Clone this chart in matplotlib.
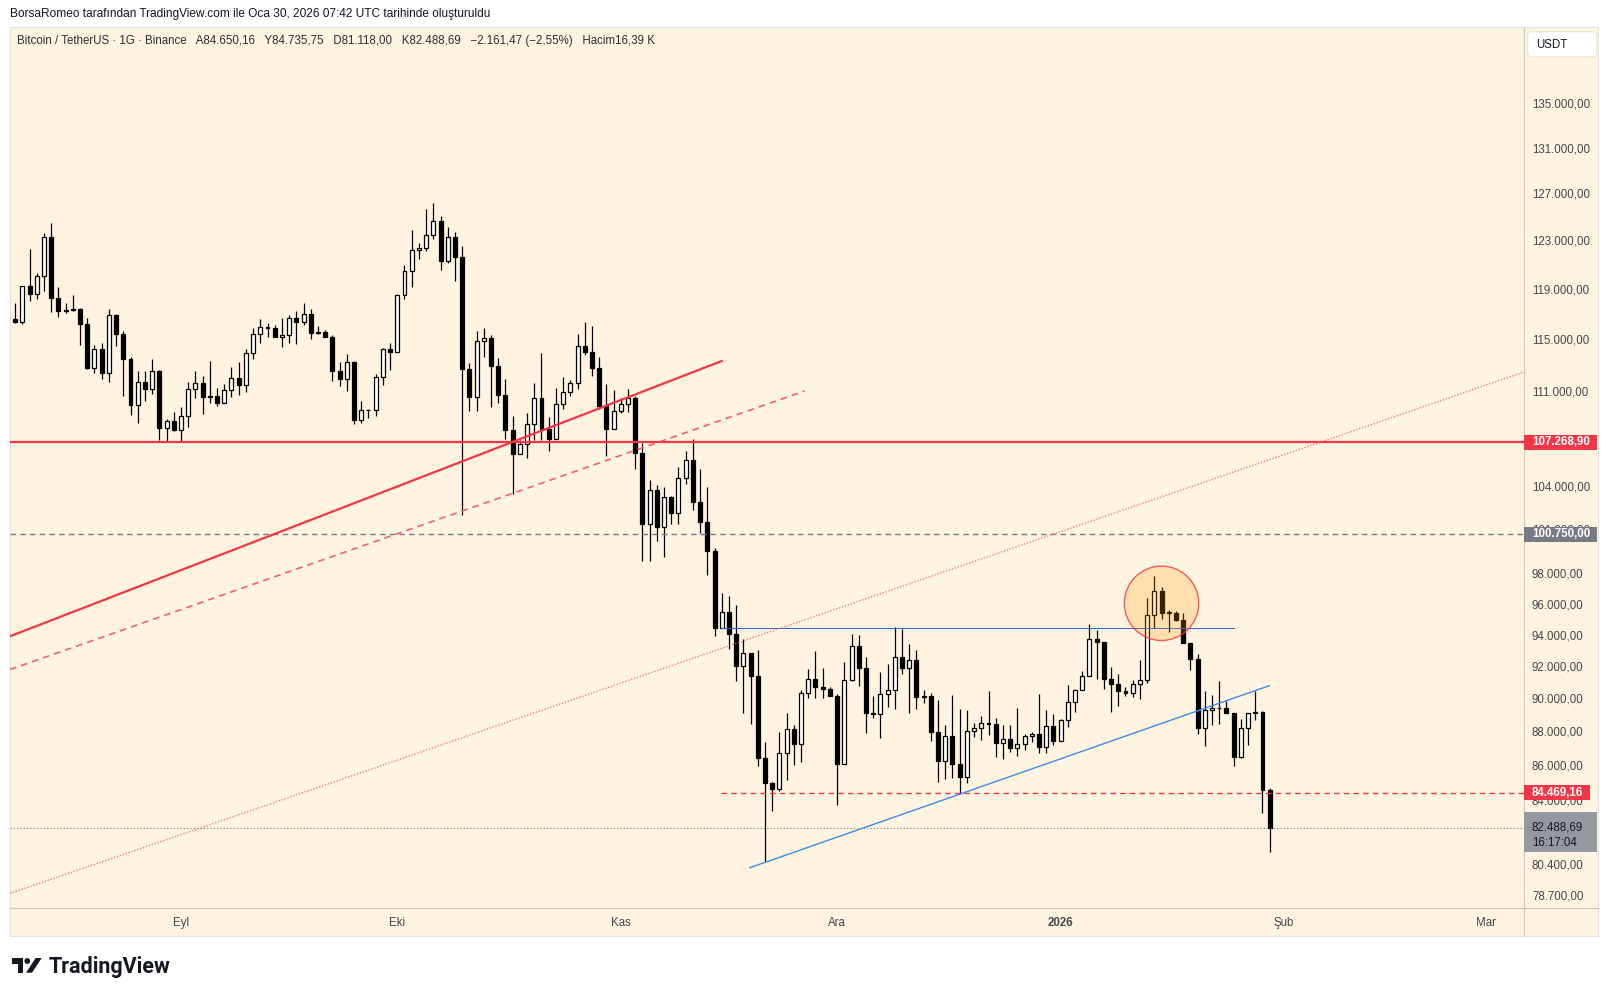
import numpy as np
import pandas as pd
import matplotlib
matplotlib.use("Agg")
import matplotlib.pyplot as plt
import matplotlib.dates as mdates
import matplotlib.transforms as mtransforms
from matplotlib.patches import Rectangle, Circle, FancyBboxPatch, Polygon
from matplotlib.lines import Line2D
from matplotlib.ticker import NullLocator

plt.rcParams['font.family'] = ['Liberation Sans', 'DejaVu Sans']

# ---------------- data ----------------
dates = pd.date_range('2025-08-09', periods=175, freq='D')

opens = [116650, 116460, 119310, 118660, 120120, 123360, 118330, 117340, 117390, 117450,
         116260, 112840, 114290, 112480, 116970, 115470, 113510, 110060, 111750, 111220,
         112590, 108340, 108820, 108170, 109190, 111220, 111670, 110660, 110680, 110160,
         111140, 112050, 111520, 113980, 115470, 116020, 115940, 115230, 115390, 116780,
         116410, 117050, 115590, 115660, 115230, 112640, 111980, 113280, 108940, 109640,
         109660, 112130, 114290, 114060, 118580, 120530, 122270, 122440, 123530, 124710,
         121360, 123360, 121690, 112740, 110610, 114960, 115150, 113020, 110760, 108150,
         106400, 107120, 108600, 110540, 108270, 107530, 110090, 110990, 111670, 114550,
         114080, 112870, 109960, 108270, 109580, 110090, 110540, 106510, 101440, 103820,
         101270, 103320, 102240, 104670, 105960, 103010, 101620, 99630, 94540, 95530,
         94150, 92120, 92900, 91490, 86520, 85060, 84670, 86780, 88210, 87310,
         90400, 91270, 90810, 90690, 90250, 86160, 91220, 93340, 91990, 89210,
         89150, 90340, 90590, 92650, 91950, 92460, 90190, 90230, 88070, 86340,
         87810, 86160, 85400, 88090, 88270, 88570, 88540, 87410, 87610, 87110,
         87310, 87810, 87910, 87130, 88390, 87530, 88750, 89880, 90590, 91450,
         93790, 93640, 91310, 91000, 90560, 90440, 90960, 91210, 95340, 96910,
         95510, 95490, 95030, 93570, 92560, 88310, 89360, 89480, 89500, 89180,
         86580, 88270, 89180, 89230, 84650.16]

highs = [117930, 119350, 122350, 120370, 123720, 124570, 119250, 117930, 118580, 117530,
         116730, 114630, 114810, 117470, 117050, 115730, 113670, 112590, 112590, 113540,
         112690, 108970, 109490, 109860, 111770, 112590, 112230, 113380, 111290, 111620,
         112920, 113310, 114290, 115940, 116680, 116330, 116180, 116730, 116970, 117310,
         117930, 117450, 116140, 115780, 115390, 113280, 113930, 113380, 110310, 109760,
         112360, 114420, 114760, 118660, 121050, 123970, 122880, 125760, 126280, 125160,
         124230, 123780, 122600, 113250, 115750, 115940, 115410, 113590, 111980, 109210,
         107440, 109440, 111700, 114000, 109110, 111290, 112150, 111920, 115490, 116410,
         116120, 113690, 111640, 111160, 110540, 111220, 110710, 107200, 104550, 104190,
         104030, 103420, 105480, 106640, 107510, 105330, 104070, 99830, 96800, 96600,
         96010, 93790, 92900, 93110, 87450, 85080, 88050, 89180, 88470, 90600,
         91910, 93050, 91970, 90770, 90340, 92330, 94130, 94070, 92680, 90240,
         91720, 92220, 94560, 94450, 93490, 93110, 90600, 90400, 89990, 88490,
         90300, 89440, 89380, 88570, 89010, 90540, 88890, 88490, 88490, 89520,
         87930, 88070, 90360, 89380, 89130, 88850, 90910, 90690, 91790, 94770,
         94390, 93640, 92040, 91580, 90770, 91210, 92460, 96450, 97930, 97170,
         95680, 95640, 95490, 93570, 92840, 90540, 90300, 91160, 89910, 89180,
         88830, 89210, 90560, 89320, 84735.75]

lows = [116380, 116300, 118140, 118300, 118950, 117260, 116860, 117180, 117340, 114650,
        112790, 112440, 112020, 111750, 114570, 110730, 109310, 108710, 110360, 110880,
        107440, 107300, 108120, 107300, 108420, 110560, 109380, 110210, 109980, 110160,
        110660, 110810, 110990, 113510, 114810, 115230, 115230, 114450, 114810, 114730,
        116180, 115120, 115470, 115230, 111870, 111490, 111110, 108640, 108670, 109080,
        109230, 111570, 112710, 114060, 118300, 119270, 121570, 122240, 123190, 120660,
        121190, 119710, 102080, 109610, 109610, 113720, 109910, 110210, 107490, 103530,
        106400, 106150, 107440, 107440, 106660, 107530, 109730, 110730, 111240, 113870,
        112210, 109730, 106270, 108270, 109460, 109530, 105310, 98950, 98950, 100310,
        99220, 101460, 101440, 104290, 102430, 100820, 97990, 94000, 94540, 93150,
        91180, 89210, 88530, 86050, 80600, 83450, 84590, 85210, 86060, 86280,
        90090, 90110, 90110, 90250, 83790, 86160, 91180, 90870, 88000, 88870,
        87710, 89580, 89460, 91580, 89210, 89460, 89790, 87530, 85110, 85270,
        85330, 84400, 85060, 87770, 87590, 87890, 86580, 86420, 86870, 86640,
        86970, 87470, 86780, 86780, 87250, 87530, 88370, 89270, 90590, 91450,
        91270, 90650, 89270, 89640, 90220, 90190, 90070, 91020, 94520, 95120,
        94280, 94990, 93570, 91850, 87910, 87210, 88470, 88530, 89180, 86030,
        86480, 87290, 88770, 83330, 81118.00]

closes = [116460, 119310, 118660, 120120, 123360, 118330, 117340, 117390, 117450, 116260,
          112840, 114290, 112480, 116970, 115470, 113510, 110060, 111750, 111220, 112590,
          108340, 108820, 108170, 109190, 111220, 111670, 110660, 110680, 110160, 111140,
          112050, 111520, 113980, 115470, 116020, 115940, 115230, 115390, 116780, 116410,
          117050, 115590, 115660, 115230, 112640, 111980, 113280, 108940, 109640, 109660,
          112130, 114290, 114060, 118580, 120530, 122270, 122440, 123530, 124710, 121360,
          123360, 121690, 112740, 110610, 114960, 115150, 113020, 110760, 108150, 106400,
          107120, 108600, 110540, 108270, 107530, 110090, 110990, 111670, 114550, 114080,
          112870, 109960, 108270, 109580, 110090, 110540, 106510, 101440, 103820, 101270,
          103320, 102240, 104670, 105960, 103010, 101620, 99630, 94540, 95530, 94150,
          92120, 92900, 91490, 86520, 85060, 84670, 86780, 88210, 87310, 90400,
          91270, 90810, 90690, 90250, 86160, 91220, 93340, 91990, 89210, 89150,
          90340, 90590, 92650, 91950, 92460, 90190, 90230, 88070, 86340, 87810,
          86160, 85400, 88090, 88270, 88570, 88540, 87410, 87610, 87110, 87310,
          87810, 87910, 87130, 88390, 87530, 88750, 89880, 90590, 91450, 93790,
          93640, 91310, 91000, 90560, 90440, 90960, 91210, 95340, 96910, 95510,
          95530, 95030, 93570, 92560, 88310, 89360, 89480, 89500, 89180, 86580,
          88270, 89180, 89230, 84650.16, 82488.69]

# price-axis ticks and date ticks
y_ticks = [135000, 131000, 127000, 123000, 119000, 115000, 111000, 104000,
           101000, 98000, 96000, 94000, 92000, 90000, 88000, 86000, 84000, 80400, 78700]
x_tick_dates = ['2025-09-01', '2025-10-01', '2025-11-01', '2025-12-01',
                '2026-01-01', '2026-02-01', '2026-03-01']
x_tick_labels = ['Eyl', 'Eki', 'Kas', 'Ara', '2026', 'Şub', 'Mar']

# horizontal levels
level_red = 107268.90
level_gray = 100750.00
level_red_dash = 84469.16
last_price = 82488.69
level_blue = 94500

# drawings (date, price) anchors
red_trend = (['2025-08-08 06:45', '2025-11-15 00:00'], [93983, 113382])
red_dash_trend = (['2025-08-08 06:45', '2025-11-26 11:30'], [91878, 111087])
red_dot_trend = (['2025-08-08 06:45', '2026-03-06 06:30'], [78868, 112536])
blue_trend = (['2025-11-18 21:30', '2026-01-29 22:30'], [80267, 90870])
blue_level_span = ['2025-11-14 21:30', '2026-01-25 00:00']
red_dash_start = '2025-11-14 21:30'
circle_center = ('2026-01-15 00:00', 96120)

x_limits = ['2025-08-08 06:50', '2026-03-06 04:50']
y_limits = [78093, 142372]

header = "BorsaRomeo tarafından TradingView.com ile Oca 30, 2026 07:42 UTC tarihinde oluşturuldu"
ticker = ("Bitcoin / TetherUS · 1G · Binance   A84.650,16   Y84.735,75   D81.118,00   "
          "K82.488,69   −2.161,47 (−2,55%)   Hacim16,39 K")

# ---------------- figure ----------------
W, H = 1611, 996
fig = plt.figure(figsize=(W / 100, H / 100), dpi=100)
fig.patch.set_facecolor('white')
CREAM = '#FFF4DF'
TXT = '#434651'


def fx(px):
    return px / W


def fy(py):
    return 1 - py / H


def tr(v):
    s = f"{v:,.2f}"
    return s.replace(',', '§').replace('.', ',').replace('§', '.')


# chart background (behind the axes)
fig.patches.append(Rectangle((fx(10), fy(936)), fx(1598) - fx(10), fy(27) - fy(936),
                             transform=fig.transFigure, facecolor=CREAM,
                             edgecolor='#E3E3E3', lw=0.8, zorder=-5))

ax = fig.add_axes([fx(10), fy(908), fx(1523.5) - fx(10), fy(27) - fy(908)])
ax.set_zorder(1)
ax.set_facecolor('none')
for s in ax.spines.values():
    s.set_visible(False)

xn = mdates.date2num(dates)
o = np.array(opens, dtype=float)
h = np.array(highs, dtype=float)
l = np.array(lows, dtype=float)
c = np.array(closes, dtype=float)
bull = c >= o
body_lo = np.minimum(o, c)
body_hi = np.maximum(o, c)

ax.set_yscale('log')
ax.vlines(xn, l, h, color='black', lw=0.9, zorder=2)
ax.bar(xn, body_hi - body_lo, bottom=body_lo, width=0.55,
       color=np.where(bull, 'white', 'black'), edgecolor='black', linewidth=0.9, zorder=3)

ax.set_xlim(mdates.date2num(pd.to_datetime(x_limits)))
ax.set_ylim(*y_limits)
ax.yaxis.set_major_locator(NullLocator())
ax.yaxis.set_minor_locator(NullLocator())
ax.set_xticks(mdates.date2num(pd.to_datetime(x_tick_dates)))
ax.set_xticklabels(x_tick_labels)
ax.tick_params(axis='x', length=0, pad=6.5, labelsize=8.3, labelcolor=TXT)
ax.tick_params(axis='y', length=0)
ax.get_xticklabels()[4].set_fontweight('bold')

xl = ax.get_xlim()
d2n = lambda s: mdates.date2num(pd.to_datetime(s))

# drawings
ax.axhline(level_red, color='#F23645', lw=1.6, zorder=6)
ax.axhline(level_gray, color='#787B86', lw=1.0, ls=(0, (4, 3)), zorder=6)
ax.axhline(last_price, color='#787B86', lw=0.8, ls=(0, (1, 2)), zorder=6)
ax.plot([d2n(red_dash_start), xl[1]], [level_red_dash] * 2, color='#F23645', lw=1.0,
        ls=(0, (4, 3)), zorder=6)
ax.plot(d2n(blue_level_span), [level_blue] * 2, color='#2962C8', lw=0.7, zorder=6)
ax.plot(d2n(red_trend[0]), red_trend[1], color='#F23645', lw=1.6, zorder=6)
ax.plot(d2n(red_dash_trend[0]), red_dash_trend[1], color='#F4606C', lw=1.2,
        ls=(0, (4, 3)), zorder=6)
ax.plot(d2n(red_dot_trend[0]), red_dot_trend[1], color='#F4606C', lw=1.0,
        ls=(0, (1, 1.2)), alpha=0.8, zorder=6)
ax.plot(d2n(blue_trend[0]), blue_trend[1], color='#3D8BE8', lw=1.0, zorder=6)

ctrans = fig.dpi_scale_trans + mtransforms.ScaledTranslation(
    d2n(circle_center[0]), circle_center[1], ax.transData)
ax.add_artist(Circle((0, 0), 0.372, transform=ctrans, facecolor=(1.0, 0.596, 0.0, 0.22),
                     edgecolor=(0.95, 0.21, 0.27, 0.8), lw=1.0, zorder=7))

# separators
fig.add_artist(Line2D([fx(1523.5)] * 2, [fy(27), fy(936)], transform=fig.transFigure,
                      color='#CFC7B6', lw=0.8, zorder=2))
fig.add_artist(Line2D([fx(10), fx(1598)], [fy(908)] * 2, transform=fig.transFigure,
                      color='#CFC7B6', lw=0.8, zorder=2))

# price axis
ybase = mtransforms.blended_transform_factory(fig.transFigure, ax.transData)


def anchor(xpx, val):
    return fig.dpi_scale_trans + mtransforms.ScaledTranslation(fx(xpx), val, ybase)


for t in y_ticks:
    fig.text(0, 0, tr(t), transform=anchor(1532, t), ha='left', va='center',
             fontsize=8.3, color=TXT, zorder=3)


def price_box(val, color, right, top=7.5, bottom=7.5, txtcolor='white', bold=True):
    fig.add_artist(Rectangle((0, -bottom / 100), (right - 1524) / 100, (top + bottom) / 100,
                             transform=anchor(1524, val), facecolor=color,
                             edgecolor='none', zorder=4))
    fig.text(0, 0, tr(val), transform=anchor(1532, val), ha='left', va='center',
             fontsize=8.3, color=txtcolor, fontweight='bold' if bold else 'normal',
             zorder=5)


price_box(level_red, '#F23645', 1596.7)
price_box(level_gray, '#787B86', 1597)
price_box(level_red_dash, '#F23645', 1590)
price_box(last_price, '#9598A1', 1597, top=16, bottom=24, txtcolor='#131722', bold=False)
fig.text(0, 0, '16:17:04', transform=fig.dpi_scale_trans + mtransforms.ScaledTranslation(
    fx(1532), last_price, ybase) + mtransforms.ScaledTranslation(0, -0.15, fig.dpi_scale_trans),
    ha='left', va='center', fontsize=8.3, color='#131722', zorder=5)

# USDT box
fig.patches.append(FancyBboxPatch((1527.7 / 100, (H - 56.7) / 100), 0.69, 0.25,
                                  boxstyle='round,pad=0,rounding_size=0.04',
                                  transform=fig.dpi_scale_trans, facecolor='white',
                                  edgecolor='#ECE6DA', lw=0.8, zorder=3))
fig.text(fx(1536), fy(44.5), 'USDT', ha='left', va='center', fontsize=8.3,
         color='#131722', zorder=4)

# header texts
fig.text(fx(10), fy(14), header, ha='left', va='center', fontsize=8.6, color='#131722')
fig.text(fx(17), fy(41), ticker, ha='left', va='center', fontsize=8.3, color='#2A2E39',
         zorder=4)

# TradingView logo
fig.patches.append(Polygon([(fx(12), fy(958)), (fx(23), fy(958)), (fx(23), fy(972.7)),
                            (fx(17.5), fy(972.7)), (fx(17.5), fy(963.5)), (fx(12), fy(963.5))],
                           closed=True, transform=fig.transFigure, facecolor='#131722',
                           edgecolor='none'))
fig.patches.append(Circle((27.3 / 100, (H - 961) / 100), 0.029, transform=fig.dpi_scale_trans,
                          facecolor='#131722', edgecolor='none'))
fig.patches.append(Polygon([(fx(26), fy(972.7)), (fx(32), fy(972.7)), (fx(41.7), fy(958)),
                            (fx(35.7), fy(958))], closed=True, transform=fig.transFigure,
                           facecolor='#131722', edgecolor='none'))
fig.text(fx(48.5), fy(972.7), 'TradingView', ha='left', va='baseline', fontsize=15.5,
         fontweight='bold', color='#131722', family=['Roboto', 'DejaVu Sans'])

fig.savefig('out.png', dpi=100, facecolor='white')
